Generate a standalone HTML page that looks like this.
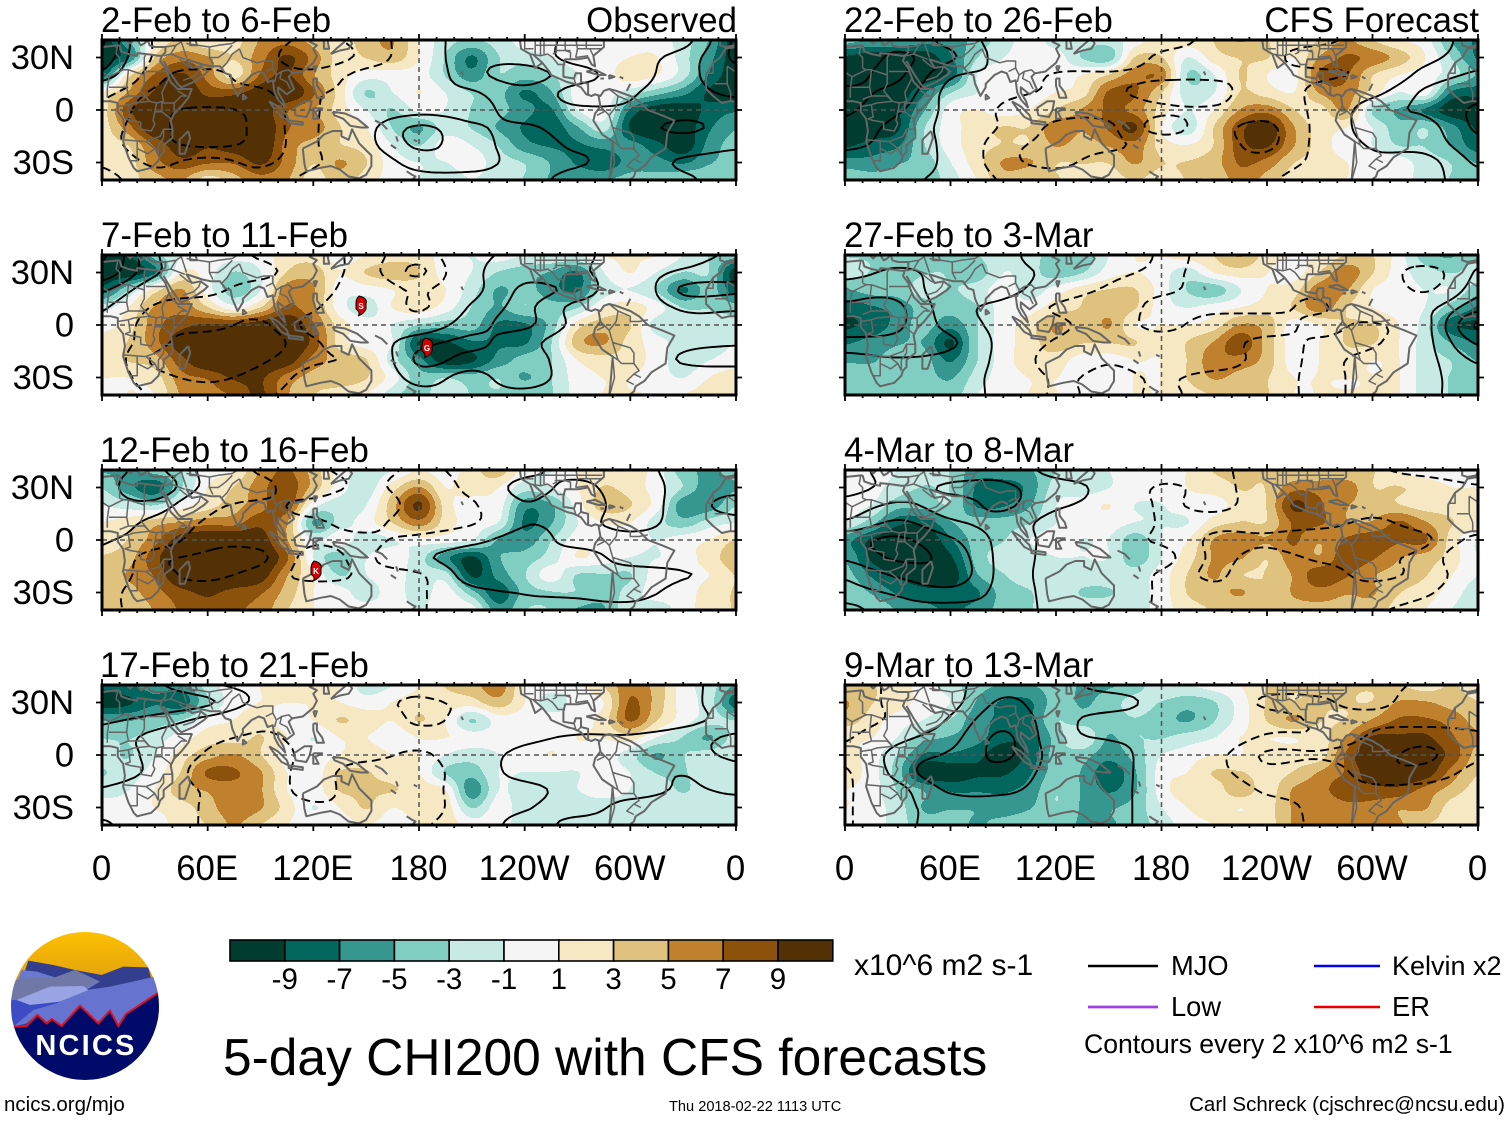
<!DOCTYPE html>
<html lang="en">
<head>
<meta charset="utf-8">
<title>5-day CHI200 with CFS forecasts</title>
<style>
html,body{margin:0;padding:0;background:#fff;}
svg{display:block;font-family:"Liberation Sans",Arial,sans-serif;}
</style>
</head>
<body>
<svg id="chart" xmlns="http://www.w3.org/2000/svg" width="1510" height="1121" viewBox="0 0 1510 1121">
  <rect width="1510" height="1121" fill="#fff"/>
  <g id="panels"></g>

  <g id="titles" font-size="34.8" fill="#000">
    <text x="101" y="32">2-Feb to 6-Feb</text>
    <text x="737" y="32" text-anchor="end">Observed</text>
    <text x="101" y="247">7-Feb to 11-Feb</text>
    <text x="100" y="462">12-Feb to 16-Feb</text>
    <text x="100" y="677">17-Feb to 21-Feb</text>
    <text x="844" y="32">22-Feb to 26-Feb</text>
    <text x="1479" y="32" text-anchor="end">CFS Forecast</text>
    <text x="844" y="247">27-Feb to 3-Mar</text>
    <text x="844" y="462">4-Mar to 8-Mar</text>
    <text x="844" y="677">9-Mar to 13-Mar</text>
  </g>

  <g id="storm-s" transform="translate(361,306)">
    <path d="M-2,-10 Q7,-8 5,-2 L5,3 Q3,8 -3,10 Q0,7 -5,3 L-5,-3 Q-5,-7 -2,-10Z" fill="#d40000" stroke="#000" stroke-width="1"/>
    <text x="0" y="3" font-size="8" font-weight="bold" fill="#fff" text-anchor="middle">S</text>
  </g>
  <g id="storm-g" transform="translate(427,348)">
    <path d="M-2,-10 Q7,-8 5,-2 L5,3 Q3,8 -3,10 Q0,7 -5,3 L-5,-3 Q-5,-7 -2,-10Z" fill="#d40000" stroke="#000" stroke-width="1"/>
    <text x="0" y="3" font-size="8" font-weight="bold" fill="#fff" text-anchor="middle">G</text>
  </g>
  <g id="storm-k" transform="translate(316,571)">
    <path d="M-2,-10 Q7,-8 5,-2 L5,3 Q3,8 -3,10 Q0,7 -5,3 L-5,-3 Q-5,-7 -2,-10Z" fill="#d40000" stroke="#000" stroke-width="1"/>
    <text x="0" y="3" font-size="8" font-weight="bold" fill="#fff" text-anchor="middle">K</text>
  </g>

  <g id="colorbar"></g>
  <text x="854" y="975" font-size="30">x10^6 m2 s-1</text>

  <text x="223" y="1075" font-size="51.5">5-day CHI200 with CFS forecasts</text>

  <g font-size="27.3">
    <line x1="1088" y1="966" x2="1158" y2="966" stroke="#000" stroke-width="2.4"/>
    <text x="1171" y="975">MJO</text>
    <line x1="1314" y1="966" x2="1380" y2="966" stroke="#0000f0" stroke-width="2.4"/>
    <text x="1392" y="975" font-size="27">Kelvin x2</text>
    <line x1="1088" y1="1007" x2="1158" y2="1007" stroke="#a040e0" stroke-width="2.8"/>
    <text x="1171" y="1016">Low</text>
    <line x1="1314" y1="1007" x2="1380" y2="1007" stroke="#e80000" stroke-width="2.4"/>
    <text x="1392" y="1016">ER</text>
    <text x="1084" y="1053" font-size="26.6">Contours every 2 x10^6 m2 s-1</text>
  </g>

  <text x="4" y="1111" font-size="20.5">ncics.org/mjo</text>
  <text x="669" y="1111" font-size="14.6">Thu 2018-02-22 1113 UTC</text>
  <text x="1505" y="1111" font-size="20.5" text-anchor="end">Carl Schreck (cjschrec@ncsu.edu)</text>

  <g>
    <defs>
      <clipPath id="logo-clip"><circle cx="85" cy="1006" r="74"/></clipPath>
      <linearGradient id="sun" x1="0" y1="0" x2="0" y2="1"><stop offset="0" stop-color="#fdc000"/><stop offset="1" stop-color="#dc9a10"/></linearGradient>
    </defs>
    <g clip-path="url(#logo-clip)">
      <rect x="11" y="932" width="148" height="60" fill="url(#sun)"/>
      <g transform="translate(0,920) scale(0.3333)">
        <path d="M20,320 L85,122 L160,135 L225,150 L305,165 L370,140 L445,142 L490,320Z" fill="#333f8e"/>
        <path d="M20,260 L65,150 L110,155 L165,172 L225,150 L300,185 L250,215 L20,260Z" fill="#6a78d0"/>
        <path d="M20,185 L90,172 L165,172 L225,150 L300,185 L250,205 L60,240 L20,240Z" fill="#7078a8"/>
        <path d="M20,238 L100,245 L200,245 L40,320 L20,320Z" fill="#3b4cc4"/>
        <path d="M40,320 L100,270 L170,250 L260,210 L330,200 L465,170 L490,220 L375,285 L355,320 L330,275 L295,310 L240,255 L185,318 L155,295 L140,310 L110,285 L80,310Z" fill="#6674d0"/>
        <path d="M50,240 L150,200 L250,198 L265,210 L180,245 L90,255Z" fill="#98a4e4"/>
        <path d="M20,320 L80,318 L112,285 L140,310 L155,297 L185,318 L240,257 L295,310 L330,272 L355,318 L378,282 L475,218 L490,218 L490,500 L20,500Z" fill="#000a68"/>
        <path d="M40,320 L80,318 L112,285 L140,310 L155,297 L185,318 L240,257 L295,310 L330,272 L355,318 L378,282 L475,218" fill="none" stroke="#e01020" stroke-width="6"/>
      </g>
    </g>
    <text x="86" y="1055" font-size="29" font-weight="bold" fill="#fff" text-anchor="middle" letter-spacing="2.2">NCICS</text>
  </g>
</svg>

<script>
// ---------- colour scale ----------
const bandColors = ['#003c30','#01665e','#35978f','#80cdc1','#c7eae5','#f5f5f5','#f6e8c3','#dfc27d','#bf812d','#8c510a','#543005'];
const colorbarLabels = ['-9','-7','-5','-3','-1','1','3','5','7','9'];
const contourLevels = [-9.7,-7.7,-5.7,-3.7,-1.7,1.7,3.7,5.7,7.7,9.7];
const latTickLabels = ['30N','0','30S'];
const latTickValues = [30,0,-30];
const lonTickLabels = ['0','60E','120E','180','120W','60W','0'];
const lonTickValues = [0,60,120,180,240,300,360];

// ---------- CHI200 anomaly fields: rows 40N to 40S every 10 deg, columns 0 to 360 every 15 deg ----------
const chiFeb02 = [
[-10,-5,1,3,1,2,5,6,4,2,4,5,1,-2,-3,-2,0,0,0,0,0,0,-2,-5,-10],
[-10,-7,3,6,5,3,6,9,6,2,3,4,1,-3,-7,-3,-2,-1,0,0,1,1,-2,-6,-10],
[-8,2,7,9,6,2,7,9,5,2,0,0,0,-3,-6,-3,-4,-3,-1,0,2,1,-2,-7,-10],
[1,5,9,11,8,8,10,11,7,2,-3,-1,1,-1,-3,-4,-7,-5,0,0,-2,-4,-6,-9,-10],
[2,8,11,11,11,11,10,7,5,2,-1,-3,-0.5,-1,-3,-4,-6,-7,-1,0,-7,-10,-10,-8,-7],
[2,6,11,11,11,11,11,7,6,3,1,-3,-5,-2,-3,-5,-7,-8,-5,-2,-9,-11,-10,-7,-5],
[2,3,7,10,9,10,11,6,4,3,2,-1,-3,0,-1,-3,-6,-7,-7,-6,-6,-8,-10,-6,-4],
[1,2,6,8,7,7,9,6,3,5,3,0,-1,-1,0,-2,-3,-5,-7,-8,-6,-6,-7,-5,-4],
[1,2,4,5,2,4,6,5,2,4,2,0,-1,-2,-1,-2,-3,-5,-5,-5,-4,-4,-3,-3,-3]];
const chiFeb07 = [
[-9,-9,-4,-1,0,0,0,2,2,0,1,2,2,0,-1,0,-1,-1,-1,1,1,1,-1,-3,-4],
[-10,-10,-7,1,0,-3,-1,3,4,1,3,4,3,0,-1,-3,-4,-5,-7,-1,1,-1,-3,-3,-10],
[-8,-3,2,5,0,-4,-1,6,5,0,0,1,2,1,-2,-5,-4,-6,-7,-2,-1,-3,-7,-4,-8],
[-2,1,5,6,3,0,3,7,5,0,-2,1,2,0,-3,-5,-3,-4,-3,1,2,0,-3,-3,-4],
[0,2,6,8,9,9,10,11,7,2,0,-1,-3,-4,-4,-7,-7,-4,2,4,3,-2,-2,-2,-2],
[2,3,6,10,11,11,11,11,8,2,0,-1,-9,-9,-7,-7,-7,-3,4,5,2,0,-2,-2,-1],
[2,3,4,8,11,11,11,10,6,4,3,-2,-6,-10,-9,-6,-4,-3,1,2,2,0,-2,-1,0],
[1,1,2,6,7,9,9,6,4,4,3,0,-4,-3,-4,-3,-5,-3,0,1,1,0,-1,1,2],
[0,1,1,5,6,7,9,5,3,2,1,-2,-4,-1,-3,-3,-3,-3,0,1,1,1,1,2,2]];
const chiFeb12 = [
[-5,-5,-4,-3,0,1,5,7,4,0,-2,-1,1,0,2,4,0,-1,1,2,2,0,-4,-5,-4],
[-3,-6,-8,-3,1,3,6,8,4,0,-2,2,5,1,2,1,-2,-1,1,3,2,0,-3,-6,-5],
[-1,-2,-3,0,2,4,6,8,0,-2,-1,4,9,2,0,0,-6,-5,0,4,3,0,-6,-6,-3],
[1,2,4,5,6,6,8,5,-5,-2,0,3,6,2,0,-1,-7,-5,-1,1,1,-2,-4,-2,-1],
[2,3,6,10,11,11,10,5,-1,0,-2,-1,0,0,-1,-5,-6,-3,0,0,0,-1,0,1,3],
[3,4,8,11,11,11,11,7,-1,-4,-1,0,-2,-6,-9,-5,-4,-2,1,0,-1,-1,0,2,4],
[4,5,7,11,11,11,10,5,1,-3,-1,0,-2,-2,-9,-6,-3,0,-3,-3,-3,0,0,1,3],
[3,4,6,8,9,8,7,4,1,0,-2,0,-2,0,-4,-8,-4,-3,-3,-4,-2,0,0,2,3],
[3,3,5,7,8,7,6,3,1,0,0,0,-1,0,0,-6,-3,-3,-5,-5,-1,-2,0,2,3]];
const chiFeb17 = [
[-8,-7,-6,-6,-2,0,1,2,1,1,-2,-1,1,3,4,6,1,0,0,3,6,4,0,-2,-5],
[-10,-9,-7,-8,-3,0,1,1,1,1,0,1,2,2,2,4,1,-2,0,1,7,4,0,-2,-8],
[-5,-5,-4,-3,0,1,2,0,1,3,2,1,3,1,-3,0,0,0,0,2,7,3,0,-2,-3],
[-3,-3,-2,0,2,2,3,1,-1,1,1,0,1,1,0,0,0,0,1,1,2,-1,-3,-5,-2],
[-2,-3,-1,2,4,5,3,0,0,1,2,1,1,-1,-2,-1,0,1,0,0,-2,-5,-3,-2,-1],
[-3,-2,0,3,7,7,5,1,0,3,3,2,1,-3,-4,-1,-1,-1,-1,0,-1,-3,-3,-2,-2],
[-2,-1,1,4,5,6,5,1,0,3,3,3,2,1,-6,-1,-2,-2,-1,0,-1,-2,-3,-2,-2],
[0,0,1,2,4,6,5,2,-1,1,3,1,2,2,-3,0,-2,-1,-2,-2,-2,-2,-2,-2,-2],
[0,0,0,2,3,5,3,1,0,0,1,0,1,2,0,0,-2,-2,-2,-2,-2,-2,-2,-2,-2]];
const chiFeb22 = [
[-4,-5,-5,-6,-6,-4,-2,0,-2,-2,-2,0,2,2,3,5,3,2,3,5,3,1,0,-5,-7],
[-9,-10,-10,-10,-7,-3,-1,0,0,-3,-4,3,3,-1,2,3,3,1,5,7,6,4,1,-3,-7],
[-10,-11,-10,-10,-8,-1,0,0,0,1,3,6,6,-3,-1,3,1,0,7,7,3,1,0,-2,-5],
[-10,-11,-10,-7,-3,-1,0,0,1,2,7,7,3,-2,-1,3,2,1,5,6,2,-1,0,-7,-8],
[-10,-11,-9,-5,0,1,0,1,3,5,7,6,2,-1,1,5,6,3,2,5,-3,-5,-7,-10,-10],
[-10,-10,-9,-3,0,2,3,3,6,5,7,9,1,-2,3,8,10,5,2,1,-1,-4,-3,-6,-9],
[-9,-8,-7,-3,0,2,3,3,5,4,5,6,2,1,3,8,9,5,2,0,-1,-3,-3,-5,-8],
[-6,-6,-5,-4,-1,2,5,5,3,3,3,5,3,3,4,7,6,3,2,1,0,0,-2,-3,-5],
[-3,-4,-4,-4,-2,1,4,3,3,2,2,3,2,3,3,6,4,2,1,1,0,0,-2,-3,-4]];
const chiFeb27 = [
[-3,-3,-3,-3,-3,-3,-1,-2,-4,-4,-1,1,1,2,3,5,2,1,1,3,3,0,-4,-5,-3],
[-2,-3,-4,-3,-3,-4,-1,-2,-4,-3,0,1,0,-2,1,2,1,0,3,6,3,0,-2,-3,-2],
[-5,-4,-4,-2,-3,-2,0,-2,0,2,3,3,0,-3,-4,-1,1,2,6,5,1,0,-1,-1,-4],
[-8,-7,-6,-4,-4,-3,0,0,2,3,4,3,0,-1,0,1,2,3,6,3,1,0,-1,-4,-7],
[-9,-8,-6,-4,-6,-3,0,2,5,3,5,1,1,1,2,5,4,0,1,3,3,1,-2,-8,-9],
[-7,-6,-5,-5,-9,-3,0,2,4,3,3,3,1,3,5,8,4,0,1,3,3,1,-2,-5,-7],
[-5,-5,-4,-4,-7,-3,0,2,2,0,0,1,1,3,6,6,4,0,1,2,1,1,-2,-3,-5],
[-4,-4,-4,-4,-5,-2,0,1,1,0,0,1,1,3,5,4,3,1,1,1,1,1,-2,-3,-4],
[-3,-3,-3,-3,-4,-1,0,1,1,0,0,1,1,2,3,3,3,1,1,1,1,1,-2,-3,-4]];
const chiMar04 = [
[0,0,-1,-2,-3,-6,-5,-5,-3,-2,-1,0,1,1,3,3,3,3,3,3,3,1,0,0,-1],
[1,0,-2,-3,-3,-7,-8,-6,-2,-2,-1,0,0,1,2,3,3,6,6,6,3,3,2,1,1],
[0,-1,-4,-4,-3,-7,-7,-5,-1,0,1,-1,-1,0,0,2,3,9,7,5,4,3,2,2,2],
[-1,-4,-8,-8,-5,-4,-4,-3,-1,0,0,-1,-1,-1,2,3,3,7,7,5,5,7,5,3,2],
[-6,-9,-11,-11,-7,-4,-3,-1,0,-1,-1,-4,-1,1,5,6,5,7,5,7,8,7,7,2,-1],
[-5,-9,-11,-11,-9,-4,-2,-2,-1,-1,-1,-4,-1,2,5,5,3,6,5,8,7,5,4,2,-1],
[-4,-7,-9,-10,-10,-5,-3,-2,-2,-2,-2,-2,0,3,5,3,3,5,8,7,5,4,3,1,-1],
[-3,-5,-7,-8,-8,-7,-4,-3,-2,-3,-3,-2,0,3,4,5,3,5,6,5,5,3,2,0,-2],
[-3,-3,-5,-6,-7,-6,-4,-3,-2,-2,-2,-2,0,2,3,3,3,4,4,4,4,2,1,-1,-2]];
const chiMar09 = [
[3,3,2,0,-2,-4,-5,-5,-4,-5,-5,-4,-1,-1,0,1,3,3,3,3,3,3,2,3,2],
[5,3,2,0,-1,-5,-7,-7,-4,-5,-4,-2,-3,-4,-3,0,3,3,3,3,3,5,5,4,3],
[4,2,0,-1,-3,-6,-7,-7,-3,-4,-4,-3,-4,-5,-3,0,3,5,3,3,5,7,7,6,4],
[1,1,-1,-4,-5,-6,-8,-8,-4,-1,-5,-3,-3,-2,-1,1,1,1,2,5,9,9,9,7,5],
[2,0,-3,-7,-7,-8,-10,-8,-4,-4,-6,-4,-1,0,1,1,2,2,2,7,11,11,10,8,4],
[2,0,-4,-10,-10,-9,-9,-7,-4,-5,-8,-5,0,1,3,3,2,3,5,7,10,11,10,6,3],
[1,0,-3,-5,-7,-7,-7,-6,-3,-5,-7,-5,0,2,2,4,2,5,6,8,8,8,6,4,2],
[1,0,-2,-5,-5,-5,-6,-5,-3,-5,-5,-4,-1,1,2,1,2,5,5,6,6,5,5,2,1],
[0,0,-2,-4,-4,-5,-4,-3,-4,-5,-5,-4,-2,0,1,2,2,5,5,5,5,5,3,2,1]];
const fieldGain = 1.04;

// ---------- MJO-filtered fields: rows 40N to 40S every 10 deg, columns 0 to 360 every 30 deg ----------
const mjoFeb02 = [
[-6,2,3,3,4,3,0,-3,-3,-1,-1,-1,-6],
[-5,2,3,3,5,3,0,-3,-3,-1,-1,-2.5,-6],
[-3,3,4,3,3,1,0,-3,-4.5,-2.5,-1,-3,-5],
[1,4,4,4,2,1,-1,-1.5,-3,-1,-1.5,-3,-4],
[2,5,6,5,2,0,-1,-1,-2.5,-2,-2,-3,-3],
[3,5,7,5,2,-1,-4,-2,-1.5,-2.5,-3,-4,-3],
[3,5,6,5,2,-1,-4,-2.5,-1,-2,-2.2,-2.6,-2],
[2,4,3,4,2,0,-2.5,-2.5,-1,-1.5,-2.5,-1.5,-1],
[1,3,3,3,1,0,-1,-1,-1,-2.5,-3,-2,-1]];
const mjoFeb07 = [
[-8,-2,0,2,3,1,3,-1,-2,-2,-1,-1,-2],
[-7,-2,0,1,3,1,4,-1,-3,-2,-1,-2,-3],
[-4,0,1,3,3,0,2,-1,-4,-3,0,-4,-4],
[-2,2,3,3,2,-1,2,-2,-4,-1,0,-2,-2],
[-1,3,3,4,1,0,0,-3,-4,-1,1,-1,-1],
[0,3,5,5,2,0,-3,-4,-2.5,0,1,-1,-1.5],
[0,4,5,4,2,1,-4,-3,-3,0,1,-2,-2.5],
[0,3,4,3,1,1,-2.5,-1,-3,0,1,0,0],
[0,2,3,2,1,1,-1,-1,-1,0,1,0,0]];
const mjoFeb12 = [
[-3,-4,-1,2,2,1,2,1,-1,-2.5,-2.5,-1,-1],
[-3,-5,-1,1,3,1,3,1,-2.5,-1,-3,-1,-1],
[-3,-3,1,2,1,-1,3,2,-1.5,0,-3,-1,-2.5],
[-3,-1,2,2,2,1,3,2,-1.5,-1,-2.5,-1,-1],
[-2,0,3,3,2,2,1,-1,-2.5,-1,-1,-1,-1],
[-1,3,4,4,1,2,-1,-3,-1.8,-2.5,-1,-1,-1],
[0,3,4,3,1,2,2,-3,-2.5,-2,-2.5,-1.8,-1.3],
[1,3,3,2,3,2,2,-1,-1.8,-2,-2.5,-1,-1],
[1,3,3,3,2,2,2,-1,-1,-1,-1,0,0]];
const mjoFeb17 = [
[-5,-4,-2,-1,1,0,1,-1,-1,-1,-1,-1,-3],
[-5,-5,-4,-1,1,1,2,1,-1,-1,-0.5,-1,-3],
[-4,-3,-1,1,1,0,2,1,0,0,0,-1,-2.5],
[-3,-1,1,2,1,1,1,1,-1,-2,-2,-2.8,-4],
[-3,-1,2,3,1,1,2,0,-2.5,-2.5,-2.5,-3,-4],
[-3,-1,3,3,1,3,3,0,-2.5,-2.5,-2.5,-1.8,-3],
[-1.5,0,2,3,1,3,3,0,-1,-2.5,-2.5,-1.5,-2],
[-1,0,2,3,2,2,3,0,-1.5,-2.5,-1,-1,-1],
[-2,0,2,3,2,2,2,0,-2.5,-1,-1,-1,-1]];
const mjoFeb22 = [
[-4,-5,-3,-1,-1,0,1,2,2,2,1,0,-3],
[-4,-6,-4,-1,-1,0,2,2,2,1,1,-1,-3],
[-5,-6,-2,-1,2,2,2,2,2,2,1,-2.5,-4],
[-6,-5,-1,1,2,2,1,1,3,1,-1,-4,-5],
[-6,-4,-1,2,3,3,2,2,3,1,-3,-4,-6],
[-5,-3,-1,2,4,4,1,3,4,1,-3,-3,-6],
[-4,-3,-1,3,4,4,3,3,4,1,-2,-2.5,-5],
[-3,-3,-1,3,4,3,3,3,3,1,-1,-1,-4],
[-2,-2,-1,2,3,2,3,2,2,0,-1,-1,-3]];
const mjoFeb27 = [
[-3,-3,-3,-2.5,0,-1,2,1,0,0,0,-1,-1],
[-3,-4,-3,-2.5,-1,1,2,1,0,0,-1,3,-2],
[-5,-5,-2.5,-2.5,0,2,2,1,1,1,-1,2,-3],
[-6,-6,-2.5,-1,2,3,1,1,1,2,-1,-1,-5],
[-7,-6,-3,-1,1,3,1,3,3,1,2,-1,-8],
[-5,-5,-4,-1,2,3,3,3,1,2,2,-1,-6],
[-3,-3.5,-3,-1,3,2,3,3,1,2,1,-1,-4],
[-3,-2.5,-2.5,-1,2,1,2,1,1,2,1,-1,-3],
[-2.5,-2,-2.5,-1,2,1,2,1,1,2,1,-1,-3]];
const mjoMar04 = [
[-1,-2.5,-2.5,-3,-1,-1,0,1,3,3,2,1,0],
[-1,-2.5,-4,-4,-2.5,-1,2,1,3,3,3,3,2],
[-2.5,-4,-3,-4,-2,-1,2,1,3,3,3,3,3],
[-4,-6,-4,-3,-1,-1,2,3,3,3,4,3,3],
[-7,-8,-6,-3,-1,1,2,4,4,5,5,4,1],
[-6,-8,-7,-3,-1,1,1,4,3,4,4,3,-1],
[-4,-6,-7,-3,-1,0,2,4,2,3,4,3,0],
[-3,-4,-5,-3,-1,0,2,3,3,3,3,2,0],
[-1,-3,-3,-3,-1,0,2,2,3,3,2,1,0]];
const mjoMar09 = [
[3,1,-1,-3,-2.5,-1,-1,0,1,1,1,2,2],
[3,1,-1,-4,-2.5,-2.5,-1,0,2,2,1,3,2],
[3,1,-2,-5,-2.5,-1,-1,0,1,2,3,3,3],
[2,-1,-3,-6,-2.5,-1.5,-1,0,2,2,4,5,4],
[1,-2.5,-4,-6,-3,-3,0,1,4,4,5,6,4],
[2,-2.5,-5,-5,-3,-3,0,1,3,2,5,5,3],
[2,-1,-4,-4,-3,-3,0,0,2,2,3,3,2],
[2,-1,-2.5,-3,-3,-3,0,0,1,2,2,3,2],
[2,-1,-2.5,-3,-3,-3,0,0,1,2,3,2,3]];

// ---------- base map, lon/lat polylines ----------
const coastlines = [
[[10,37],[11,33.5],[15,32],[20,31],[20,32.5],[25,32],[32,31],[34,31],[33,28],[36,24],[37,21],[39,16],[43,12],[51,12],[49,7],[45,2],[41,-2],[39,-6],[40,-11],[40,-16],[35,-20],[35,-24],[33,-26],[32,-29],[28,-33],[20,-35],[18,-33],[15,-27],[12,-18],[13,-12],[12,-5],[9,-1],[9,4],[5,5],[-4,5],[-8,4],[-13,8],[-17,12],[-17,20],[-13,27],[-9,30],[-6,35],[0,36],[10,37]],
[[-9,40],[-9,37],[-6,36],[-1,37],[0,39],[3,42]],
[[12,42],[16,38],[18,40],[20,40],[22,37],[24,38],[26,40],[27,37],[30,36],[36,36],[36,33],[34,31]],
[[50,40],[50,37],[54,37],[53,40]],
[[35,28],[39,21],[43,15],[45,13],[52,16],[58,20],[60,22],[56,25],[51,24],[48,29],[51,28],[57,26],[62,25],[67,25],[70,21],[73,20],[74,15],[77,8],[80,13],[80,15],[85,20],[89,22],[92,21],[94,16],[97,17],[98,10],[100,6],[104,1.5],[103,5],[100,10],[100,13],[105,9],[109,12],[106,19],[108,21],[114,22],[120,27],[122,31],[120,35],[122,37],[118,39],[122,41]],
[[126,40],[126,35],[129,35],[128,40]],
[[130,32],[133,35],[140,41],[142,38],[140,35],[135,34],[130,32]],
[[120,25],[122,25],[121,22],[120,25]],
[[80,9],[82,7],[80,6],[80,9]],
[[49,-12],[50,-16],[47,-25],[44,-25],[44,-17],[49,-12]],
[[95,5],[100,2],[105,-3],[106,-6],[102,-4],[97,2],[95,5]],
[[106,-6],[114,-7],[114,-8.5],[106,-7.5],[106,-6]],
[[109,1],[115,5],[119,5],[118,0],[116,-4],[110,-3],[109,1]],
[[120,1],[125,1],[121,-1],[123,-5],[120,-5],[120,1]],
[[120,18],[122,18],[122,14],[125,10],[126,7],[122,7],[120,14],[120,18]],
[[131,-1],[138,-2],[145,-5],[151,-10],[147,-10],[141,-9],[137,-5],[132,-3],[131,-1]],
[[114,-22],[122,-18],[126,-14],[131,-12],[136,-12],[136,-15],[140,-17],[142,-11],[146,-19],[153,-26],[153,-32],[150,-37],[146,-39],[140,-38],[135,-34],[130,-32],[124,-33],[116,-35],[115,-31],[114,-22]],
[[155,-6],[159,-8],[162,-11]],
[[167,-15],[168,-18]],
[[164,-20],[167,-22]],
[[177,-17],[179,-18]],
[[173,-35],[176,-37],[178,-38],[175,-41]],
[[204,22],[205,20]],
[[237,42],[238,35],[243,32],[246,24],[250,27],[245,31.5],[250,27],[254,22],[255,20],[264,16],[268,15],[272,13],[275,9],[278,8],[280,9],[283,8],[285,11],[288,12],[292,11],[300,8],[305,5],[310,0],[318,-3],[325,-6],[321,-13],[320,-22],[312,-27],[308,-32],[303,-35],[302,-38],[298,-41]],
[[288,-41],[289,-30],[290,-18],[284,-14],[279,-6],[280,-2],[283,2],[282,8]],
[[276,9],[276,15],[272,16],[272,21],[269,21],[268,18],[262,19],[262,25],[263,29],[270,29],[276,30],[278,26],[280,25],[279,31],[285,36],[285,41]],
[[275,22],[280,23],[286,20],[282,20],[275,22]],
[[288,20],[291,19],[288,18],[288,20]],
[[283,18],[285,18]],
[[294,19],[296,18]],
[[300,15],[299,13],[298,11]]
];
const borders = [
[[9,37],[8,32],[10,30],[10,24],[12,23],[15,23],[24,20],[24,30],[25,32]],
[[25,22],[37,22]],
[[24,20],[24,15],[22,11],[27,5],[31,4],[35,5],[34,10],[36,14],[38,18]],
[[-5,25],[4,19],[12,23]],
[[-17,21],[-13,21],[-13,27]],
[[4,19],[3,12],[3,7]],
[[15,23],[14,13],[15,8],[10,6]],
[[14,13],[4,13]],
[[-12,15],[-5,15],[-5,25]],
[[-5,15],[-3,10],[-3,5]],
[[15,8],[24,8],[27,5]],
[[15,3],[18,4],[27,5]],
[[9,2],[15,3],[16,-4],[13,-5]],
[[31,4],[30,-1],[29,-6],[30,-8],[28,-12],[22,-11],[22,-7],[16,-6],[13,-5]],
[[12,-17],[24,-18],[25,-18],[33,-15],[35,-11],[40,-11]],
[[30,-1],[34,-1],[39,-5]],
[[34,-1],[34,4],[41,4],[41,-2]],
[[41,4],[45,8],[48,8],[43,11]],
[[20,-18],[20,-29],[16,-29]],
[[20,-22],[26,-25],[30,-22],[32,-26]],
[[30,-22],[25,-18]],
[[35,-11],[35,-16],[32,-20],[32,-26]],
[[36,36],[42,37],[45,39]],
[[42,37],[39,32],[35,31]],
[[39,32],[47,29]],
[[45,39],[48,30]],
[[46,17],[52,19],[55,22],[56,25]],
[[44,29],[49,25],[52,24]],
[[48,38],[61,36],[61,30],[63,26]],
[[61,30],[66,30],[70,33],[74,37]],
[[61,36],[66,37],[74,38]],
[[68,24],[71,27],[74,32],[78,35]],
[[78,35],[80,30],[88,27],[92,28],[97,28],[97,24],[93,22]],
[[97,24],[99,20],[98,16]],
[[99,20],[102,22],[106,23],[108,21]],
[[102,22],[101,18],[105,16],[107,12]],
[[74,38],[80,42]],
[[283,2],[288,-3],[290,-10],[293,-20],[290,-18]],
[[288,12],[293,8],[292,2],[288,-3]],
[[293,8],[300,5],[300,2],[305,2],[310,3]],
[[290,-10],[300,-13],[302,-16],[302,-22],[295,-22],[293,-20]],
[[302,-22],[305,-26],[302,-28],[306,-30]],
[[302,-28],[298,-32],[302,-34]],
[[290,-18],[291,-30],[288,-41]],
[[281,-3],[285,-1],[283,2]],
[[243,32],[249,31],[253,32],[256,30],[259,26],[263,26]],
[[240,42],[240,35],[245,35]],
[[246,42],[246,32]],
[[249,42],[249,31]],
[[251,42],[251,32]],
[[258,41],[258,33],[256,32]],
[[263,41],[263,34],[266,33],[266,29]],
[[269,41],[270,35],[269,30]],
[[275,41],[275,35]],
[[246,37],[258,37],[270,37],[276,37],[284,37]],
[[270,35],[284,35]],
[[269,30],[276,31]],
[[257,34],[266,34]],
[[277,35],[279,31]],
[[268,18],[269,15]],
[[272,16],[270,14]]
];

// ---------- panel layout ----------
const panelLefts = [102,102,102,102,845,845,845,845];
const panelWidths = [634,634,634,634,633,633,633,633];
const panelEquators = [110,325,540,755,110,325,540,755];
const panelFields = [chiFeb02,chiFeb07,chiFeb12,chiFeb17,chiFeb22,chiFeb27,chiMar04,chiMar09];
const panelMjo = [mjoFeb02,mjoFeb07,mjoFeb12,mjoFeb17,mjoFeb22,mjoFeb27,mjoMar04,mjoMar09];
const panelIds = ['feb-02','feb-07','feb-12','feb-17','feb-22','feb-27','mar-04','mar-09'];
const halfHeight = 70;
const SVGNS = 'http://www.w3.org/2000/svg';

function makeSvg(tag, parent, attrs){
  const el = document.createElementNS(SVGNS, tag);
  for (const k in attrs) el.setAttribute(k, attrs[k]);
  parent.appendChild(el);
  return el;
}
function lonToX(i, lon){ return panelLefts[i] + lon / 360 * panelWidths[i]; }
function latToY(i, lat){ return panelEquators[i] - lat / 40 * halfHeight; }

function cubicWeights(t){
  const t2 = t*t, t3 = t2*t;
  return [-0.5*t3+t2-0.5*t, 1.5*t3-2.5*t2+1, -1.5*t3+2*t2+0.5*t, 0.5*t3-0.5*t2];
}
function sampleGrid(grid, u, v){
  const rows = grid.length, cols = grid[0].length;
  let j0 = Math.floor(u), i0 = Math.floor(v);
  if (j0 >= cols-1) j0 = cols-2;
  if (i0 >= rows-1) i0 = rows-2;
  const wu = cubicWeights(u-j0), wv = cubicWeights(v-i0);
  let total = 0;
  for (let a=0;a<4;a++){
    const row = grid[Math.max(0,Math.min(rows-1,i0-1+a))];
    let s = 0;
    for (let b=0;b<4;b++){
      s += wu[b]*row[Math.max(0,Math.min(row.length-1,j0-1+b))];
    }
    total += wv[a]*s;
  }
  return total;
}
function bandIndex(v){
  return Math.max(0, Math.min(10, Math.floor((v+1)/2)+5));
}

function drawField(i, parent){
  const grid = panelFields[i];
  const w = panelWidths[i], h = halfHeight*2;
  const x0 = panelLefts[i], y0 = panelEquators[i]-halfHeight;
  const parts = bandColors.map(function(){ return []; });
  const cols = grid[0].length, rows = grid.length;
  for (let py=0; py<h; py++){
    const v = (py+0.5)/h*(rows-1);
    let start = 0, cur = -1;
    for (let px=0; px<=w; px++){
      const idx = px<w ? bandIndex(fieldGain*sampleGrid(grid,(px+0.5)/w*(cols-1),v)) : -2;
      if (idx !== cur){
        if (cur >= 0) parts[cur].push('M'+(x0+start)+' '+(y0+py)+'h'+(px-start)+'v1h'+(start-px)+'z');
        cur = idx; start = px;
      }
    }
  }
  parts.forEach(function(p, b){
    if (!p.length) return;
    const el = makeSvg('path', parent, {d:p.join(''), fill:bandColors[b], 'shape-rendering':'crispEdges'});
    
    
  });
}

function contourPaths(grid, level, nx, ny, toX, toY){
  const cols = grid[0].length, rows = grid.length;
  const val = [];
  for (let r=0;r<=ny;r++){
    const line = [];
    for (let c=0;c<=nx;c++) line.push(sampleGrid(grid,c/nx*(cols-1),r/ny*(rows-1)));
    val.push(line);
  }
  const pts = {}, links = {};
  function edgePoint(key, x1,y1,v1,x2,y2,v2){
    if (!pts[key]){
      const t = (level-v1)/(v2-v1);
      pts[key] = [x1+(x2-x1)*t, y1+(y2-y1)*t];
      links[key] = [];
    }
    return key;
  }
  function connect(a,b){ links[a].push(b); links[b].push(a); }
  for (let r=0;r<ny;r++){
    for (let c=0;c<nx;c++){
      const a=val[r][c], b=val[r][c+1], d=val[r+1][c], e=val[r+1][c+1];
      const found = [];
      if ((a<level)!==(b<level)) found.push(edgePoint('h'+r+'_'+c,c,r,a,c+1,r,b));
      if ((b<level)!==(e<level)) found.push(edgePoint('v'+r+'_'+(c+1),c+1,r,b,c+1,r+1,e));
      if ((d<level)!==(e<level)) found.push(edgePoint('h'+(r+1)+'_'+c,c,r+1,d,c+1,r+1,e));
      if ((a<level)!==(d<level)) found.push(edgePoint('v'+r+'_'+c,c,r,a,c,r+1,d));
      if (found.length===2) connect(found[0],found[1]);
      else if (found.length===4){ connect(found[0],found[3]); connect(found[1],found[2]); }
    }
  }
  const visited = {};
  let out = '';
  function walk(start){
    const line = [start];
    visited[start] = true;
    let cur = start, go = true;
    while (go){
      go = false;
      const nb = links[cur];
      for (let n=0;n<nb.length;n++){
        if (!visited[nb[n]]){
          visited[nb[n]] = true;
          line.push(nb[n]);
          cur = nb[n];
          go = true;
          break;
        }
      }
    }
    const closed = line.length>2 && links[cur].indexOf(start)>=0;
    out += line.map(function(k,idx){
      return (idx?'L':'M')+toX(pts[k][0]).toFixed(1)+' '+toY(pts[k][1]).toFixed(1);
    }).join('') + (closed?'Z':'');
  }
  Object.keys(links).forEach(function(k){ if (links[k].length<2 && !visited[k]) walk(k); });
  Object.keys(links).forEach(function(k){ if (!visited[k]) walk(k); });
  return out;
}

function drawContours(i, parent){
  const nx = 158, ny = 35;
  const toX = function(c){ return lonToX(i, c/nx*360); };
  const toY = function(r){ return latToY(i, 40-r/ny*80); };
  contourLevels.forEach(function(level){
    const d = contourPaths(panelMjo[i], level, nx, ny, toX, toY);
    if (!d) return;
    const el = makeSvg('path', parent, {d:d, fill:'none', stroke:'#000', 'stroke-width':1.9, 'stroke-linejoin':'round'});
    if (level>0) el.setAttribute('stroke-dasharray','9 5');
    
    
  });
}

function polylinePath(i, lines){
  let d = '';
  [0,360].forEach(function(offset){
    lines.forEach(function(line){
      d += line.map(function(p,k){
        return (k?'L':'M')+lonToX(i,p[0]+offset).toFixed(1)+' '+latToY(i,p[1]).toFixed(1);
      }).join('');
    });
  });
  return d;
}

function drawPanel(i){
  const root = document.getElementById('panels');
  const g = makeSvg('g', root, {});
  
  
  const x0 = panelLefts[i], w = panelWidths[i];
  const y0 = panelEquators[i]-halfHeight, h = halfHeight*2;

  const clip = makeSvg('clipPath', g, {id:'clip-'+i});
  makeSvg('rect', clip, {x:x0, y:y0, width:w, height:h});
  const inner = makeSvg('g', g, {'clip-path':'url(#clip-'+i+')'});

  drawField(i, inner);
  drawContours(i, inner);

  const coast = makeSvg('path', inner, {d:polylinePath(i,coastlines), fill:'none', stroke:'#666', 'stroke-width':2, 'stroke-linejoin':'round'});
  
  
  const bord = makeSvg('path', inner, {d:polylinePath(i,borders), fill:'none', stroke:'#666', 'stroke-width':1.5, 'stroke-linejoin':'round'});
  
  

  const eq = makeSvg('line', inner, {x1:x0, x2:x0+w, y1:latToY(i,0), y2:latToY(i,0), stroke:'#555', 'stroke-width':1.5, 'stroke-dasharray':'5 4'});
  
  
  const dl = makeSvg('line', inner, {x1:lonToX(i,180), x2:lonToX(i,180), y1:y0, y2:y0+h, stroke:'#555', 'stroke-width':1.5, 'stroke-dasharray':'5 4'});
  
  

  const frame = makeSvg('rect', g, {x:x0, y:y0, width:w, height:h, fill:'none', stroke:'#000', 'stroke-width':3});
  
  

  let tickPath = '';
  for (let lon=0; lon<=360; lon+=10){
    const len = lon%60===0 ? 6 : 3;
    const x = lonToX(i,lon).toFixed(1);
    tickPath += 'M'+x+' '+y0+'v-'+len+'M'+x+' '+(y0+h)+'v'+len;
  }
  latTickValues.forEach(function(lat){
    const y = latToY(i,lat);
    tickPath += 'M'+x0+' '+y+'h-6M'+(x0+w)+' '+y+'h6';
  });
  const ticks = makeSvg('path', g, {d:tickPath, stroke:'#000', 'stroke-width':1.8, fill:'none'});
  
  

  if (i<4){
    latTickLabels.forEach(function(label,k){
      const t = makeSvg('text', g, {x:74, y:latToY(i,latTickValues[k])+11.5, 'font-size':34.5, 'text-anchor':'end'});
      t.textContent = label;
      
      
    });
  }
  if (i===3 || i===7){
    lonTickLabels.forEach(function(label,k){
      const t = makeSvg('text', g, {x:lonToX(i,lonTickValues[k])-0.5, y:880, 'font-size':34.8, 'text-anchor':'middle'});
      t.textContent = label;
      
      
    });
  }
}

function drawColorbar(){
  const g = document.getElementById('colorbar');
  const x0 = 230, cell = 54.8, y0 = 940, h = 21;
  bandColors.forEach(function(c,k){
    const r = makeSvg('rect', g, {x:x0+k*cell, y:y0, width:cell, height:h, fill:c, stroke:'#000', 'stroke-width':1.6});
    
    
  });
  colorbarLabels.forEach(function(label,k){
    const t = makeSvg('text', g, {x:x0+(k+1)*cell, y:989, 'font-size':29.5, 'text-anchor':'middle'});
    t.textContent = label;
    
    
  });
}

for (let p=0; p<8; p++) drawPanel(p);
drawColorbar();
</script>
</body>
</html>
